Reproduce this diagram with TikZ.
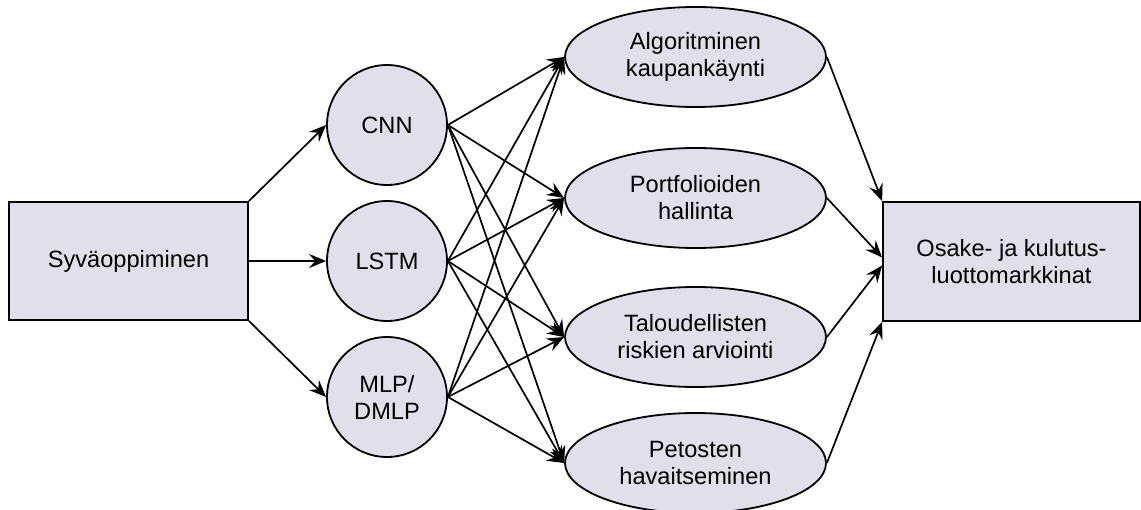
\documentclass[tikz,border=0pt]{standalone}
\usepackage{fontspec}
\setmainfont{Liberation Sans}
\usetikzlibrary{shapes.geometric,arrows.meta}
\definecolor{boxfill}{HTML}{E2DEEA}
\tikzset{
  base/.style={draw=black, fill=boxfill, line width=1.8pt, align=center, inner sep=0pt,
    font=\fontsize{23.6}{27}\selectfont},
  rectbox/.style={base, rectangle, minimum width=239pt, minimum height=118pt},
  circbox/.style={base, circle, minimum size=120pt},
  ellbox/.style={base, ellipse, minimum width=261pt, minimum height=100pt},
  conn/.style={line width=1.7pt, -{Stealth[length=17pt,width=14pt,inset=6pt]}}
}
\begin{document}
\begin{tikzpicture}[x=1pt,y=-1pt]
\useasboundingbox (0,0) rectangle (1141,510);
\node[rectbox] (S) at (128.5,261) {Syväoppiminen};
\node[circbox] (C) at (387,125) {CNN};
\node[circbox] (L) at (387,261) {LSTM};
\node[circbox] (M) at (387,397) {MLP/\\DMLP};
\node[ellbox] (A) at (695.5,57) {Algoritminen\\kaupankäynti};
\node[ellbox] (P) at (695.5,198) {Portfolioiden\\hallinta};
\node[ellbox] (T) at (695.5,337) {Taloudellisten\\riskien arviointi};
\node[ellbox] (F) at (695.5,463) {Petosten\\havaitseminen};
\node[rectbox, minimum width=257pt, minimum height=119pt] (O) at (1011.5,261.5) {Osake- ja kulutus-\\luottomarkkinat};
\draw[conn] (S.north east) -- (C.west);
\draw[conn] (S.east) -- (L.west);
\draw[conn] (S.south east) -- (M.west);
\foreach \c in {C,L,M}{
  \foreach \e in {A,P,T,F}{
    \draw[conn] (\c.east) -- (\e.west);
  }
}
\draw[conn] (A.east) -- (O.north west);
\draw[conn] (P.east) -- ([yshift=4pt]O.west);
\draw[conn] (T.east) -- ([yshift=-4pt]O.west);
\draw[conn] (F.east) -- (O.south west);
\end{tikzpicture}
\end{document}
